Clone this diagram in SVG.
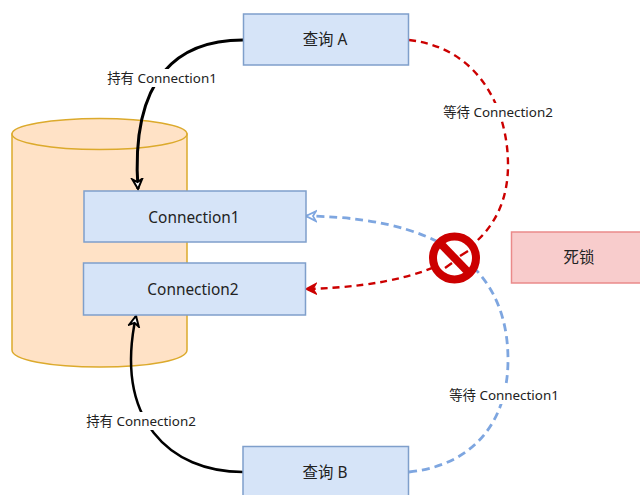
<svg xmlns="http://www.w3.org/2000/svg" width="640" height="495" viewBox="0 0 640 495">
<style>
text{font-family:"Noto Sans","Noto Sans CJK SC",sans-serif;fill:#222;text-anchor:middle}
.box{fill:#d6e4f8;stroke:#7f9fcb;stroke-width:1.5}
.t{font-size:15.4px}
.l{font-size:13.4px}
.c{fill:none;stroke-linecap:butt}
.k{stroke:#000}
.r{stroke:#cc0000;stroke-width:2.4;stroke-dasharray:7 5}
.b{stroke:#7ea6e0;stroke-width:2.8;stroke-dasharray:8 5}
.lb{fill:#fff;stroke:none}
</style>
<defs>
<marker id="ak" markerUnits="userSpaceOnUse" markerWidth="14" markerHeight="14" refX="11" refY="7" orient="auto"><path d="M1 2L11 7L1 12L4 7Z" fill="#fff" stroke="#000" stroke-width="2"/></marker>
<marker id="ar" markerUnits="userSpaceOnUse" markerWidth="14" markerHeight="14" refX="11" refY="7" orient="auto"><path d="M1 2L11 7L1 12L4 7Z" fill="#cc0000" stroke="#cc0000" stroke-width="1.5"/></marker>
<marker id="ab" markerUnits="userSpaceOnUse" markerWidth="14" markerHeight="14" refX="11" refY="7" orient="auto"><path d="M1 2L11 7L1 12L4 7Z" fill="#fff" stroke="#7ea6e0" stroke-width="1.8"/></marker>
</defs>
<g id="database">
<path d="M12 134V350C12 360 50 367 100 367S187 360 187 350V134Z" fill="#ffe2c6" stroke="#dcaa2c" stroke-width="1.5"/>
<ellipse cx="99.500" cy="134" rx="87.500" ry="15.500" fill="#ffe2c6" stroke="#dcaa2c" stroke-width="1.5"/>
</g>
<g id="connectors">
<path class="c k" stroke-width="3" d="M243 40C180 40 130 75 138 189" marker-end="url(#ak)"/>
<path class="c k" stroke-width="2.500" d="M243 472C170 472 114 420 136 316" marker-end="url(#ak)"/>
<path class="c r" d="M409 40C480 48 508 110 508 165C508 225 470 285 306 289" marker-end="url(#ar)"/>
<path class="c b" d="M409 472C475 465 508 420 508 360C508 290 470 218 306 216" marker-end="url(#ab)"/>
</g>
<g id="label-hold1"><rect class="lb" x="105" y="69" width="114" height="18"/><text class="l" x="162" y="83">持有 Connection1</text></g>
<g id="label-hold2"><rect class="lb" x="83" y="412" width="116" height="18"/><text class="l" x="141" y="425.500">持有 Connection2</text></g>
<g id="label-wait2"><rect class="lb" x="440" y="103" width="116" height="18"/><text class="l" x="498" y="116.500">等待 Connection2</text></g>
<g id="label-wait1"><rect class="lb" x="446" y="386" width="116" height="18"/><text class="l" x="504" y="399.500">等待 Connection1</text></g>
<g id="queryA"><rect class="box" x="243.500" y="14" width="165" height="51"/><text class="t" x="325" y="45">查询 A</text></g>
<g id="queryB"><rect class="box" x="243" y="446.500" width="165.500" height="52"/><text class="t" x="325" y="478">查询 B</text></g>
<g id="conn1"><rect class="box" x="84" y="191" width="222" height="51"/><text class="t" x="194" y="222.500">Connection1</text></g>
<g id="conn2"><rect class="box" x="83.500" y="263" width="222" height="52"/><text class="t" x="193" y="294.500">Connection2</text></g>
<g id="deadlock"><rect x="511.500" y="232" width="140" height="51" fill="#f8cccc" stroke="#ea8a8a" stroke-width="1.5"/><text class="t" x="579" y="263">死锁</text></g>
<g id="forbidden">
<circle cx="454.500" cy="258" r="21.500" fill="#fff" stroke="#cc0000" stroke-width="8"/>
<path d="M441 244L468 272" stroke="#cc0000" stroke-width="8" fill="none"/>
<path d="M445 268L452 263M460 256L468 251" stroke="#cc0000" stroke-width="2.400" fill="none"/>
</g>
</svg>
